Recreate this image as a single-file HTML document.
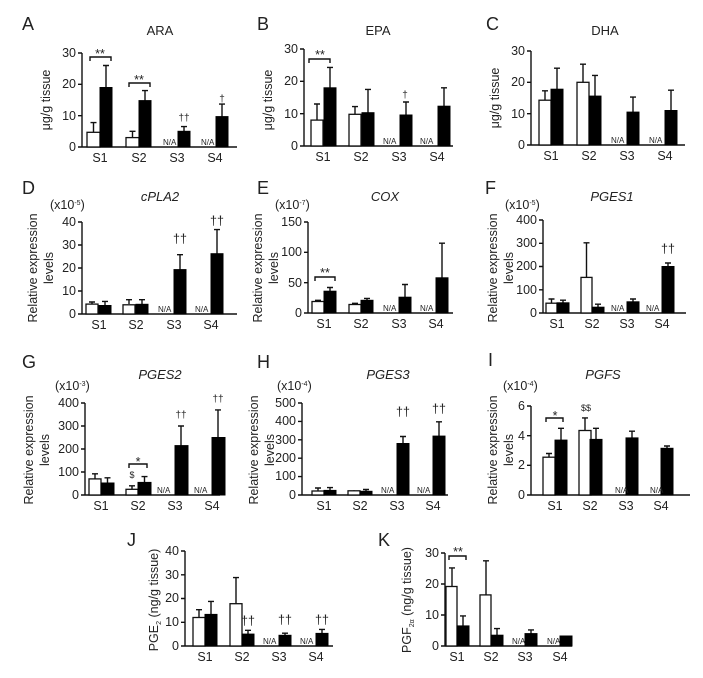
<!DOCTYPE html>
<html><head><meta charset="utf-8"><style>
body{margin:0;background:#fff}
svg{display:block}
text{font-family:"Liberation Sans",Arial,sans-serif;fill:#222}
.t{font-size:12.5px}
.n{font-size:8px}
.L{font-size:18px}
.ti{font-size:13px}
.it{font-style:italic}
rect.w{fill:#fff;stroke:#111;stroke-width:1.3}
rect.b{fill:#000;stroke:#000;stroke-width:1}
path{stroke:#111;fill:none;stroke-width:1.4}
</style></head><body>
<svg width="703" height="678" viewBox="0 0 703 678">

<!-- A -->
<text class="L" x="22" y="30">A</text>
<text class="ti" x="160" y="35" text-anchor="middle">ARA</text>
<text class="t" transform="translate(50,100) rotate(-90)" text-anchor="middle">μg/g tissue</text>
<path d="M82,53V147H237M78,53H82M78,84.3H82M78,115.7H82M78,147H82"/>
<g class="t" text-anchor="end"><text x="76" y="57">30</text><text x="76" y="88">20</text><text x="76" y="120">10</text><text x="76" y="151">0</text></g>
<path d="M93.5,132V122.6M90.5,122.6H96.5M106,87.5V65.5M103,65.5H109M132.5,137.6V131.3M129.5,131.3H135.5M145,100.6V90.6M142,90.6H148M184,131.3V126.6M181,126.6H187M222,116.6V104.1M219,104.1H225"/>
<rect class="w" x="87" y="132.3" width="13" height="14.7"/><rect class="b" x="100" y="87.5" width="12" height="59.5"/>
<rect class="w" x="126" y="137.6" width="13" height="9.4"/><rect class="b" x="139" y="100.6" width="12" height="46.4"/>
<rect class="b" x="178" y="131.3" width="12" height="15.7"/><rect class="b" x="216" y="116.6" width="12" height="30.4"/>
<g class="n"><text x="163" y="145">N/A</text><text x="201" y="145">N/A</text></g>
<path d="M90,61V57H111V61M129,87V83H150V87"/>
<g class="t"><text x="100" y="58" text-anchor="middle">**</text><text x="139" y="84" text-anchor="middle">**</text><text x="184" y="121" text-anchor="middle" font-size="10">††</text><text x="222" y="102" text-anchor="middle" font-size="10">†</text></g>
<g class="t" text-anchor="middle"><text x="100" y="162">S1</text><text x="139" y="162">S2</text><text x="177" y="162">S3</text><text x="215" y="162">S4</text></g>

<!-- B -->
<text class="L" x="257" y="30">B</text>
<text class="ti" x="378" y="35" text-anchor="middle">EPA</text>
<text class="t" transform="translate(272,100) rotate(-90)" text-anchor="middle">μg/g tissue</text>
<path d="M304,49V146H453M300,49H304M300,81.3H304M300,113.7H304M300,146H304"/>
<g class="t" text-anchor="end"><text x="298" y="53">30</text><text x="298" y="85">20</text><text x="298" y="118">10</text><text x="298" y="150">0</text></g>
<path d="M317,120V104M314,104H320M330,88V67.4M327,67.4H333M355,114.3V106.6M352,106.6H358M368,112.7V89.4M365,89.4H371M406,115V102M403,102H409M444,106.2V87.8M441,87.8H447"/>
<rect class="w" x="311" y="120.1" width="12" height="25.9"/><rect class="b" x="324" y="87.8" width="12" height="58.2"/>
<rect class="w" x="349" y="114.3" width="12" height="31.7"/><rect class="b" x="362" y="112.7" width="12" height="33.3"/>
<rect class="b" x="400" y="115" width="12" height="31"/><rect class="b" x="438" y="106.2" width="12" height="39.8"/>
<g class="n"><text x="383" y="144">N/A</text><text x="420" y="144">N/A</text></g>
<path d="M309,63V59H330V63"/>
<g class="t" text-anchor="middle"><text x="320" y="59">**</text><text x="405" y="98" font-size="10">†</text></g>
<g class="t" text-anchor="middle"><text x="323" y="161">S1</text><text x="361" y="161">S2</text><text x="399" y="161">S3</text><text x="437" y="161">S4</text></g>

<!-- C -->
<text class="L" x="486" y="30">C</text>
<text class="ti" x="605" y="35" text-anchor="middle">DHA</text>
<text class="t" transform="translate(499,98) rotate(-90)" text-anchor="middle">μg/g tissue</text>
<path d="M531,51V145H685M527,51H531M527,82.3H531M527,113.7H531M527,145H531"/>
<g class="t" text-anchor="end"><text x="525" y="55">30</text><text x="525" y="86">20</text><text x="525" y="118">10</text><text x="525" y="149">0</text></g>
<path d="M545,100V90.8M542,90.8H548M557,89V68.2M554,68.2H560M583,82V64.2M580,64.2H586M595,96V75.4M592,75.4H598M633,112V97.1M630,97.1H636M671,110V90.2M668,90.2H674"/>
<rect class="w" x="539" y="100.2" width="12" height="44.8"/><rect class="b" x="551" y="89.2" width="12" height="55.8"/>
<rect class="w" x="577" y="82.3" width="12" height="62.7"/><rect class="b" x="589" y="96.1" width="12" height="48.9"/>
<rect class="b" x="627" y="112.1" width="12" height="32.9"/><rect class="b" x="665" y="110.5" width="12" height="34.5"/>
<g class="n"><text x="611" y="143">N/A</text><text x="649" y="143">N/A</text></g>
<g class="t" text-anchor="middle"><text x="551" y="160">S1</text><text x="589" y="160">S2</text><text x="627" y="160">S3</text><text x="665" y="160">S4</text></g>

<!-- D -->
<text class="L" x="22" y="194">D</text>
<text class="ti it" x="160" y="201" text-anchor="middle">cPLA2</text>
<text class="t" x="50" y="209" text-anchor="start">(x10<tspan font-size="7" dy="-4">-5</tspan><tspan dy="4">)</tspan></text>
<text class="t" transform="translate(37,268) rotate(-90)" text-anchor="middle">Relative expression</text>
<text class="t" transform="translate(53,268) rotate(-90)" text-anchor="middle">levels</text>
<path d="M82,222V314H237M78,222H82M78,245H82M78,268H82M78,291H82M78,314H82"/>
<g class="t" text-anchor="end"><text x="76" y="226">40</text><text x="76" y="249">30</text><text x="76" y="272">20</text><text x="76" y="295">10</text><text x="76" y="318">0</text></g>
<path d="M92,304V302M89,302H95M105,305V301.4M102,301.4H108M129,304V299.7M126,299.7H132M142,304V299.7M139,299.7H145M180,269.6V254.7M177,254.7H183M217,253.7V229.6M214,229.6H220"/>
<rect class="w" x="86" y="304.1" width="12" height="9.9"/><rect class="b" x="99" y="305.5" width="12" height="8.5"/>
<rect class="w" x="123" y="304.8" width="12" height="9.2"/><rect class="b" x="136" y="304.3" width="12" height="9.7"/>
<rect class="b" x="174" y="269.6" width="12" height="44.4"/><rect class="b" x="211" y="253.7" width="12" height="60.3"/>
<g class="n"><text x="158" y="312">N/A</text><text x="195" y="312">N/A</text></g>
<g class="t" text-anchor="middle" font-size="10"><text x="180" y="243">††</text><text x="217" y="225">††</text></g>
<g class="t" text-anchor="middle"><text x="99" y="329">S1</text><text x="136" y="329">S2</text><text x="174" y="329">S3</text><text x="211" y="329">S4</text></g>

<!-- E -->
<text class="L" x="257" y="194">E</text>
<text class="ti it" x="385" y="201" text-anchor="middle">COX</text>
<text class="t" x="275" y="209">(x10<tspan font-size="7" dy="-4">-7</tspan><tspan dy="4">)</tspan></text>
<text class="t" transform="translate(262,268) rotate(-90)" text-anchor="middle">Relative expression</text>
<text class="t" transform="translate(278,268) rotate(-90)" text-anchor="middle">levels</text>
<path d="M308,222V313H453M304,222H308M304,252.3H308M304,282.7H308M304,313H308"/>
<g class="t" text-anchor="end"><text x="302" y="226">150</text><text x="302" y="256">100</text><text x="302" y="287">50</text><text x="302" y="317">0</text></g>
<path d="M318,301.5V300.3M315,300.3H321M330,291.2V287.5M327,287.5H333M355,304.5V303.3M352,303.3H358M367,300.3V298.4M364,298.4H370M405,297.2V284.5M402,284.5H408M442,277.8V243.2M439,243.2H445"/>
<rect class="w" x="312" y="301.5" width="12" height="11.5"/><rect class="b" x="324" y="291.2" width="12" height="21.8"/>
<rect class="w" x="349" y="304.5" width="12" height="8.5"/><rect class="b" x="361" y="300.3" width="12" height="12.7"/>
<rect class="b" x="399" y="297.2" width="12" height="15.8"/><rect class="b" x="436" y="277.8" width="12" height="35.2"/>
<g class="n"><text x="383" y="311">N/A</text><text x="420" y="311">N/A</text></g>
<path d="M315,281V277H335V281"/>
<text class="t" x="325" y="277" text-anchor="middle">**</text>
<g class="t" text-anchor="middle"><text x="324" y="328">S1</text><text x="361" y="328">S2</text><text x="399" y="328">S3</text><text x="436" y="328">S4</text></g>

<!-- F -->
<text class="L" x="485" y="194">F</text>
<text class="ti it" x="612" y="201" text-anchor="middle">PGES1</text>
<text class="t" x="505" y="209">(x10<tspan font-size="7" dy="-4">-5</tspan><tspan dy="4">)</tspan></text>
<text class="t" transform="translate(497,268) rotate(-90)" text-anchor="middle">Relative expression</text>
<text class="t" transform="translate(513,268) rotate(-90)" text-anchor="middle">levels</text>
<path d="M543,220V313H686M539,220H543M539,243.3H543M539,266.5H543M539,289.8H543M539,313H543"/>
<g class="t" text-anchor="end"><text x="537" y="224">400</text><text x="537" y="247">300</text><text x="537" y="270">200</text><text x="537" y="294">100</text><text x="537" y="317">0</text></g>
<path d="M551.5,303V299M548.5,299H554.5M563,303V300.2M560,300.2H566M586.5,277.4V242.8M583.5,242.8H589.5M598,307V304.2M595,304.2H601M633,301.8V299M630,299H636M668,266.5V263M665,263H671"/>
<rect class="w" x="546" y="303.2" width="11" height="9.8"/><rect class="b" x="557" y="302.8" width="12" height="10.2"/>
<rect class="w" x="581" y="277.4" width="11" height="35.6"/><rect class="b" x="592" y="307.2" width="12" height="5.8"/>
<rect class="b" x="627" y="301.8" width="12" height="11.2"/><rect class="b" x="662" y="266.5" width="12" height="46.5"/>
<g class="n"><text x="611" y="311">N/A</text><text x="646" y="311">N/A</text></g>
<text class="t" x="668" y="253" text-anchor="middle" font-size="10">††</text>
<g class="t" text-anchor="middle"><text x="557" y="328">S1</text><text x="592" y="328">S2</text><text x="627" y="328">S3</text><text x="662" y="328">S4</text></g>

<!-- G -->
<text class="L" x="22" y="368">G</text>
<text class="ti it" x="160" y="379" text-anchor="middle">PGES2</text>
<text class="t" x="55" y="390">(x10<tspan font-size="7" dy="-4">-3</tspan><tspan dy="4">)</tspan></text>
<text class="t" transform="translate(33,450) rotate(-90)" text-anchor="middle">Relative expression</text>
<text class="t" transform="translate(49,450) rotate(-90)" text-anchor="middle">levels</text>
<path d="M85,403V495H220M81,403H85M81,426H85M81,449H85M81,472H85M81,495H85"/>
<g class="t" text-anchor="end"><text x="79" y="407">400</text><text x="79" y="430">300</text><text x="79" y="453">200</text><text x="79" y="476">100</text><text x="79" y="499">0</text></g>
<path d="M95,479V473.8M92,473.8H98M107.5,483V477.8M104.5,477.8H110.5M132,489V485.8M129,485.8H135M144.5,482.4V476.6M141.5,476.6H147.5M181,445.6V426M178,426H184M218,437.5V409.9M215,409.9H221"/>
<rect class="w" x="89" y="478.9" width="12" height="16.1"/><rect class="b" x="101" y="483" width="13" height="12"/>
<rect class="w" x="126" y="489.3" width="12" height="5.7"/><rect class="b" x="138" y="482.4" width="13" height="12.6"/>
<rect class="b" x="175" y="445.6" width="13" height="49.4"/><rect class="b" x="212" y="437.5" width="13" height="57.5"/>
<g class="n"><text x="157" y="493">N/A</text><text x="194" y="493">N/A</text></g>
<path d="M129,468V464H147V468"/>
<g class="t" text-anchor="middle"><text x="138" y="466">*</text><text x="132" y="478" font-size="9">$</text><text x="181" y="418" font-size="10">††</text><text x="218" y="402" font-size="10">††</text></g>
<g class="t" text-anchor="middle"><text x="101" y="510">S1</text><text x="138" y="510">S2</text><text x="175" y="510">S3</text><text x="212" y="510">S4</text></g>

<!-- H -->
<text class="L" x="257" y="368">H</text>
<text class="ti it" x="388" y="379" text-anchor="middle">PGES3</text>
<text class="t" x="277" y="390">(x10<tspan font-size="7" dy="-4">-4</tspan><tspan dy="4">)</tspan></text>
<text class="t" transform="translate(258,450) rotate(-90)" text-anchor="middle">Relative expression</text>
<text class="t" transform="translate(274,450) rotate(-90)" text-anchor="middle">levels</text>
<path d="M302,403V495H448M298,403H302M298,421.4H302M298,439.8H302M298,458.2H302M298,476.6H302M298,495H302"/>
<g class="t" text-anchor="end"><text x="296" y="407">500</text><text x="296" y="425">400</text><text x="296" y="444">300</text><text x="296" y="462">200</text><text x="296" y="480">100</text><text x="296" y="499">0</text></g>
<path d="M318,491V488M315,488H321M330,490.4V487.6M327,487.6H333M354,490.8V490.2M366,491.3V489.5M363,489.5H369M403,443.5V436.5M400,436.5H406M439,436.1V421.8M436,421.8H442"/>
<rect class="w" x="312" y="491" width="12" height="4"/><rect class="b" x="324" y="490.4" width="12" height="4.6"/>
<rect class="w" x="348" y="490.8" width="12" height="4.2"/><rect class="b" x="360" y="491.3" width="12" height="3.7"/>
<rect class="b" x="397" y="443.5" width="12" height="51.5"/><rect class="b" x="433" y="436.1" width="12" height="58.9"/>
<g class="n"><text x="381" y="493">N/A</text><text x="417" y="493">N/A</text></g>
<g class="t" text-anchor="middle" font-size="10"><text x="403" y="416">††</text><text x="439" y="413">††</text></g>
<g class="t" text-anchor="middle"><text x="324" y="510">S1</text><text x="360" y="510">S2</text><text x="397" y="510">S3</text><text x="433" y="510">S4</text></g>

<!-- I -->
<text class="L" x="488" y="366">I</text>
<text class="ti it" x="603" y="379" text-anchor="middle">PGFS</text>
<text class="t" x="503" y="390">(x10<tspan font-size="7" dy="-4">-4</tspan><tspan dy="4">)</tspan></text>
<text class="t" transform="translate(497,450) rotate(-90)" text-anchor="middle">Relative expression</text>
<text class="t" transform="translate(513,450) rotate(-90)" text-anchor="middle">levels</text>
<path d="M531,406V495H690M527,406H531M527,435.7H531M527,465.3H531M527,495H531"/>
<g class="t" text-anchor="end"><text x="525" y="410">6</text><text x="525" y="440">4</text><text x="525" y="469">2</text><text x="525" y="499">0</text></g>
<path d="M549,457V453.5M546,453.5H552M561,440V428.3M558,428.3H564M585,430.5V417.9M582,417.9H588M596,439.4V428.3M593,428.3H599M632,437.9V431.2M629,431.2H635M667,448.3V446M664,446H670"/>
<rect class="w" x="543" y="457.2" width="12" height="37.8"/><rect class="b" x="555" y="440.1" width="12" height="54.9"/>
<rect class="w" x="579" y="430.5" width="12" height="64.5"/><rect class="b" x="590" y="439.4" width="12" height="55.6"/>
<rect class="b" x="626" y="437.9" width="12" height="57.1"/><rect class="b" x="661" y="448.3" width="12" height="46.7"/>
<g class="n"><text x="615" y="493">N/A</text><text x="650" y="493">N/A</text></g>
<path d="M546,422V418H563V422"/>
<g class="t" text-anchor="middle"><text x="555" y="420">*</text><text x="586" y="411" font-size="9">$$</text></g>
<g class="t" text-anchor="middle"><text x="555" y="510">S1</text><text x="590" y="510">S2</text><text x="626" y="510">S3</text><text x="661" y="510">S4</text></g>

<!-- J -->
<text class="L" x="127" y="546">J</text>
<text class="t" transform="translate(158,600) rotate(-90)" text-anchor="middle">PGE<tspan font-size="7" dy="3">2</tspan><tspan dy="-3"> (ng/g tissue)</tspan></text>
<path d="M185,551V646H333M181,551H185M181,574.8H185M181,598.5H185M181,622.3H185M181,646H185"/>
<g class="t" text-anchor="end"><text x="179" y="555">40</text><text x="179" y="579">30</text><text x="179" y="602">20</text><text x="179" y="626">10</text><text x="179" y="650">0</text></g>
<path d="M199,617.5V609.7M196,609.7H202M211,614.4V601.4M208,601.4H214M236,603.7V577.6M233,577.6H239M248,634.1V630.3M245,630.3H251M285,635.3V633.2M282,633.2H288M322,633.4V629.4M319,629.4H325"/>
<rect class="w" x="193" y="617.5" width="12" height="28.5"/><rect class="b" x="205" y="614.4" width="12" height="31.6"/>
<rect class="w" x="230" y="603.7" width="12" height="42.3"/><rect class="b" x="242" y="634.1" width="12" height="11.9"/>
<rect class="b" x="279" y="635.3" width="12" height="10.7"/><rect class="b" x="316" y="633.4" width="12" height="12.6"/>
<g class="n"><text x="263" y="644">N/A</text><text x="300" y="644">N/A</text></g>
<g class="t" text-anchor="middle" font-size="10"><text x="248" y="625">††</text><text x="285" y="624">††</text><text x="322" y="624">††</text></g>
<g class="t" text-anchor="middle"><text x="205" y="661">S1</text><text x="242" y="661">S2</text><text x="279" y="661">S3</text><text x="316" y="661">S4</text></g>

<!-- K -->
<text class="L" x="378" y="546">K</text>
<text class="t" transform="translate(411,600) rotate(-90)" text-anchor="middle">PGF<tspan font-size="7" dy="3">2α</tspan><tspan dy="-3"> (ng/g tissue)</tspan></text>
<path d="M445,553V646H572M441,553H445M441,584H445M441,615H445M441,646H445"/>
<g class="t" text-anchor="end"><text x="439" y="557">30</text><text x="439" y="588">20</text><text x="439" y="619">10</text><text x="439" y="650">0</text></g>
<path d="M452,586.5V567.9M449,567.9H455M463,625.9V615.9M460,615.9H466M486,594.9V560.8M483,560.8H489M497,635.2V628.6M494,628.6H500M531,633.6V629.9M528,629.9H534"/>
<rect class="w" x="446" y="586.5" width="11" height="59.5"/><rect class="b" x="457" y="625.9" width="12" height="20.1"/>
<rect class="w" x="480" y="594.9" width="11" height="51.1"/><rect class="b" x="491" y="635.2" width="12" height="10.8"/>
<rect class="b" x="525" y="633.6" width="12" height="12.4"/><rect class="b" x="560" y="636" width="12" height="10"/>
<g class="n"><text x="512" y="644">N/A</text><text x="547" y="644">N/A</text></g>
<path d="M449,560V556H466V560"/>
<text class="t" x="458" y="556" text-anchor="middle">**</text>
<g class="t" text-anchor="middle"><text x="457" y="661">S1</text><text x="491" y="661">S2</text><text x="525" y="661">S3</text><text x="560" y="661">S4</text></g>

</svg>
</body></html>
